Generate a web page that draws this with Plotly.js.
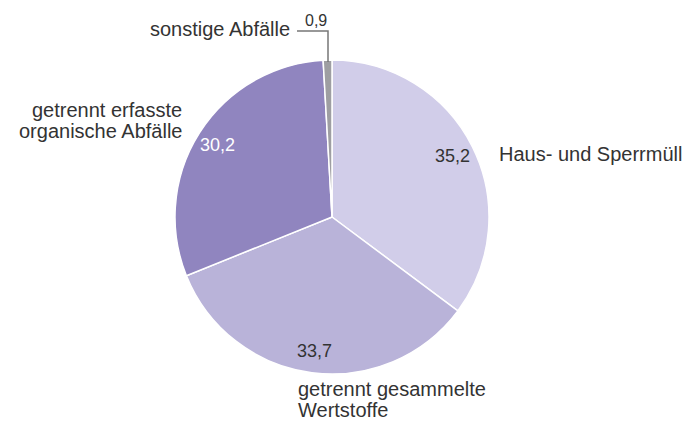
<!DOCTYPE html>
<html>
<head>
<meta charset="utf-8">
<script src="https://cdn.plot.ly/plotly-3.0.1.min.js"></script>
<style>html,body{margin:0;padding:0;background:#fff}#chart{width:690px;height:422px}</style>
</head>
<body>
<div id="chart"></div>
<script>
const categories = ["Haus- und Sperrmüll", "getrennt gesammelte<br>Wertstoffe", "getrennt erfasste<br>organische Abfälle", "sonstige Abfälle"];
const values = [35.2, 33.7, 30.2, 0.9];
const colors = ["#d1cde9", "#b9b3d9", "#9085bf", "#9e9ea2"];
const textColors = ["#333333", "#333333", "#ffffff", "#333333"];

const W = 690, H = 422;
const cx = 332, cy = 217, R = 157;
const px = x => x / W;
const py = y => 1 - y / H;
const fmt = v => v.toFixed(1).replace(".", ",");
const FONT = "Liberation Sans, Arial, sans-serif";

const trace = {
  type: "pie",
  labels: categories,
  values: values,
  sort: false,
  direction: "clockwise",
  rotation: 0,
  marker: {colors: colors, line: {color: "#ffffff", width: 1.5}},
  textinfo: "none",
  hoverinfo: "label+value",
  showlegend: false,
  domain: {x: [px(cx - R), px(cx + R)], y: [py(cy + R), py(cy - R)]}
};

const annotations = [];
// inside value labels at the mid-angle of each slice
const total = values.reduce((a, b) => a + b, 0);
let cum = 0;
values.forEach((v, i) => {
  const mid = (cum + v / 2) / total * 2 * Math.PI;
  cum += v;
  if (i === 3) return;
  const r = 0.86 * R;
  annotations.push({
    x: px(cx + r * Math.sin(mid)), y: py(cy - r * Math.cos(mid)),
    xref: "paper", yref: "paper", xanchor: "center", yanchor: "middle",
    text: fmt(v), showarrow: false, borderpad: 0,
    font: {family: FONT, size: 18, color: textColors[i]}
  });
});

// outside category labels, one annotation per line for tight line spacing
const lblFont = {family: FONT, size: 20, color: "#333333"};
const labelPos = [
  {x: 498, y: 154, anchor: "left"},
  {x: 297, y: 389, anchor: "left"},
  {x: 183, y: 110, anchor: "right"},
  {x: 291, y: 29, anchor: "right"}
];
const LS = 21;
categories.forEach((c, i) => {
  c.split("<br>").forEach((line, j) => {
    annotations.push({
      x: px(labelPos[i].x), y: py(labelPos[i].y + j * LS),
      xref: "paper", yref: "paper", xanchor: labelPos[i].anchor, yanchor: "middle",
      text: line, showarrow: false, borderpad: 0, font: lblFont
    });
  });
});
annotations.push({x: px(316), y: py(20), xref: "paper", yref: "paper", xanchor: "center", yanchor: "middle",
  text: fmt(values[3]), showarrow: false, borderpad: 0, font: {family: FONT, size: 16, color: "#333333"}});

const shapes = [
  {type: "path", xref: "paper", yref: "paper",
   path: `M ${px(297)} ${py(31)} L ${px(328)} ${py(31)} L ${px(328)} ${py(cy - R + 2)}`,
   line: {color: "#777777", width: 1.5}}
];

const layout = {
  width: W, height: H,
  margin: {l: 0, r: 0, t: 0, b: 0},
  paper_bgcolor: "#ffffff",
  annotations: annotations,
  shapes: shapes
};

Plotly.newPlot("chart", [trace], layout, {displayModeBar: false, staticPlot: true});
</script>
</body>
</html>
